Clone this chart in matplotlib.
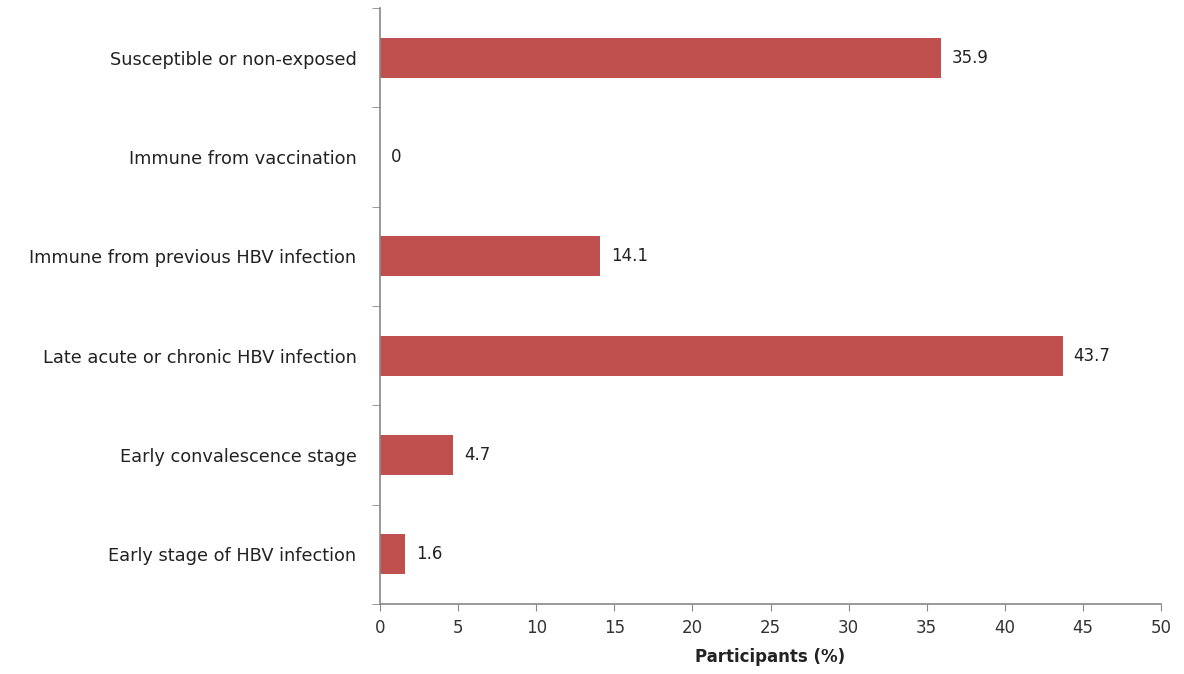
import matplotlib
matplotlib.use('Agg')
import matplotlib.pyplot as plt
import numpy as np

# Datos del gráfico
categorias = ['Susceptible or non-exposed',
              'Immune from vaccination',
              'Immune from previous HBV infection',
              'Late acute or chronic HBV infection',
              'Early convalescence stage',
              'Early stage of HBV infection']
porcentajes = [35.9, 0, 14.1, 43.7, 4.7, 1.6]
etiquetas = ['35.9', '0', '14.1', '43.7', '4.7', '1.6']
ticks_x = [0, 5, 10, 15, 20, 25, 30, 35, 40, 45, 50]

fig = plt.figure(figsize=(11.84, 6.74), dpi=100)
ax = fig.add_axes([0.321, 0.104, 0.6596, 0.884])

n = len(categorias)
pos = np.arange(n)[::-1]
ax.barh(pos, porcentajes, height=0.4, color='#C0504D')

for p, v, t in zip(pos, porcentajes, etiquetas):
    ax.text(v + 0.7, p, t, va='center', ha='left', fontsize=12, color='#222222')

ax.set_xlim(0, 50)
ax.set_ylim(-0.5, n - 0.5)
ax.set_xticks(ticks_x)
ax.set_xticklabels([str(t) for t in ticks_x], fontsize=12, color='#333333')
ax.set_yticks(pos)
ax.set_yticklabels(categorias, fontsize=12.8, color='#222222')
ax.set_yticks(np.arange(-0.5, n, 1.0), minor=True)
ax.tick_params(axis='y', which='major', length=0, pad=17)
ax.tick_params(axis='y', which='minor', length=6, color='#888888', direction='out')
ax.tick_params(axis='x', which='major', length=5, color='#888888', direction='out', pad=6)

for lado in ['top', 'right']:
    ax.spines[lado].set_visible(False)
for lado in ['left', 'bottom']:
    ax.spines[lado].set_color('#888888')
    ax.spines[lado].set_linewidth(1.2)

ax.set_xlabel('Participants (%)', fontsize=12, fontweight='bold', color='#222222', labelpad=8)

fig.savefig('out.png', dpi=100)
